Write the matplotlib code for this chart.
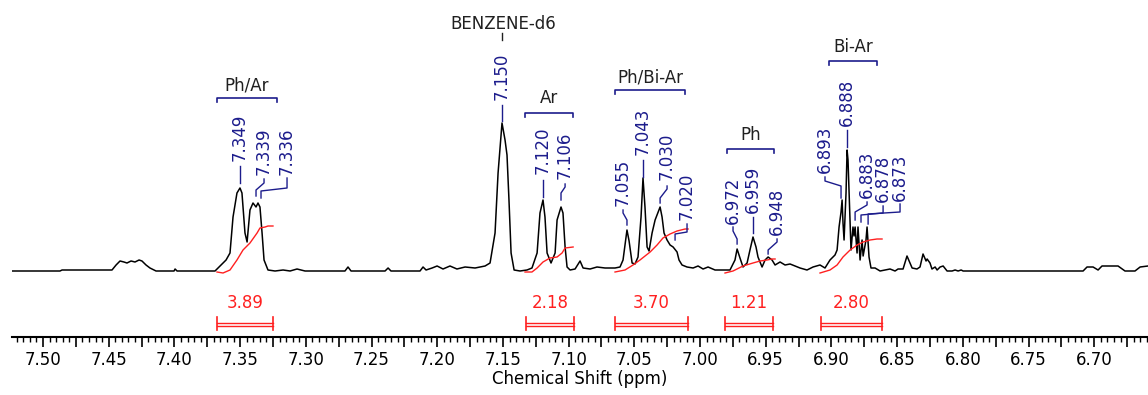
"""
1H NMR (C6D6) aromatic region 6.66 - 7.52 ppm with peak picks and integrals.
"""
import numpy as np
import matplotlib
matplotlib.use("Agg")
import matplotlib.pyplot as plt
from matplotlib.ticker import MultipleLocator, FuncFormatter

# ---------------------------------------------------------------------------
#  Data
# ---------------------------------------------------------------------------
ppm = [
    7.5236, 7.4871, 7.4855, 7.4779, 7.4566, 7.4475, 7.4444, 7.4414, 7.4384, 7.4361,
    7.4330, 7.4300, 7.4269, 7.4247, 7.4216, 7.4186, 7.4140, 7.4003, 7.3995, 7.3980,
    7.3767, 7.3691, 7.3653, 7.3607, 7.3577, 7.3554, 7.3524, 7.3501, 7.3486, 7.3463,
    7.3447, 7.3425, 7.3402, 7.3379, 7.3364, 7.3349, 7.3333, 7.3318, 7.3288, 7.3234,
    7.3173, 7.3120, 7.3067, 7.3006, 7.2702, 7.2679, 7.2656, 7.2397, 7.2374, 7.2352,
    7.2131, 7.2108, 7.2085, 7.2039, 7.2001, 7.1956, 7.1903, 7.1850, 7.1788, 7.1712,
    7.1636, 7.1598, 7.1560, 7.1537, 7.1507, 7.1484, 7.1469, 7.1454, 7.1438, 7.1415,
    7.1370, 7.1317, 7.1279, 7.1240, 7.1218, 7.1195, 7.1180, 7.1164, 7.1134, 7.1103,
    7.1088, 7.1058, 7.1043, 7.1027, 7.1012, 7.0989, 7.0951, 7.0913, 7.0890, 7.0837,
    7.0784, 7.0723, 7.0647, 7.0609, 7.0586, 7.0556, 7.0540, 7.0517, 7.0495, 7.0472,
    7.0449, 7.0434, 7.0419, 7.0403, 7.0388, 7.0365, 7.0342, 7.0304, 7.0289, 7.0274,
    7.0251, 7.0228, 7.0205, 7.0175, 7.0160, 7.0137, 7.0099, 7.0053, 7.0015, 6.9977,
    6.9939, 6.9886, 6.9833, 6.9772, 6.9734, 6.9718, 6.9696, 6.9673, 6.9642, 6.9620,
    6.9597, 6.9574, 6.9559, 6.9528, 6.9505, 6.9482, 6.9452, 6.9429, 6.9391, 6.9353,
    6.9315, 6.9277, 6.9239, 6.9186, 6.9140, 6.9087, 6.9049, 6.9011, 6.8973, 6.8957,
    6.8942, 6.8927, 6.8919, 6.8912, 6.8904, 6.8889, 6.8881, 6.8874, 6.8866, 6.8858,
    6.8851, 6.8836, 6.8828, 6.8820, 6.8805, 6.8798, 6.8782, 6.8767, 6.8759, 6.8737,
    6.8729, 6.8714, 6.8699, 6.8668, 6.8630, 6.8554, 6.8516, 6.8493, 6.8455, 6.8425,
    6.8409, 6.8386, 6.8349, 6.8326, 6.8303, 6.8280, 6.8272, 6.8250, 6.8235, 6.8211,
    6.8196, 6.8173, 6.8150, 6.8120, 6.8082, 6.8059, 6.8036, 6.8013, 6.7998, 6.7085,
    6.7055, 6.7009, 6.6971, 6.6941, 6.6819, 6.6766, 6.6690, 6.6651, 6.6591,
]
intensity = [
    0, 0, 1, 1, 1, 1, 6, 10, 9, 8,
    10, 9, 11, 10, 6, 3, 0, 0, 2, 0,
    0, 0, 5, 11, 18, 54, 78, 83, 78, 38,
    29, 61, 68, 64, 68, 64, 38, 11, 1, 0,
    1, 0, 2, 0, 0, 4, 0, 0, 3, 0,
    0, 4, 1, 3, 5, 2, 5, 2, 4, 3,
    5, 8, 38, 98, 148, 131, 116, 71, 18, 1,
    0, 1, 3, 18, 58, 71, 54, 18, 8, 18,
    51, 64, 58, 24, 4, 1, 2, 10, 3, 2,
    4, 3, 3, 4, 11, 41, 30, 8, 7, 14,
    54, 93, 64, 24, 20, 38, 51, 64, 54, 38,
    31, 26, 24, 19, 11, 6, 4, 3, 5, 2,
    4, 1, 1, 1, 11, 22, 13, 4, 8, 21,
    34, 24, 14, 4, 11, 14, 11, 6, 9, 6,
    7, 5, 3, 1, 4, 6, 3, 11, 16, 21,
    44, 59, 71, 48, 31, 78, 121, 111, 81, 48,
    21, 44, 35, 44, 18, 44, 11, 31, 15, 31,
    44, 14, 3, 3, 0, 2, 0, 2, 2, 15,
    10, 3, 2, 4, 17, 10, 12, 8, 2, 4,
    1, 4, 5, 0, 0, 1, 0, 1, 0, 0,
    4, 4, 1, 5, 5, 0, 0, 4, 5,
]

# integral traces (ppm, height)
int_phar_x = [7.3676, 7.3630, 7.3577, 7.3524, 7.3478, 7.3425, 7.3371, 7.3349, 7.3310, 7.3288, 7.3250]
int_phar_y = [-1, -2, 1, 11, 21, 28, 38, 43, 44, 45, 45]
int_ar_x = [7.1332, 7.1279, 7.1240, 7.1195, 7.1142, 7.1088, 7.1050, 7.1027, 7.0966]
int_ar_y = [-1, -1, 3, 9, 13, 14, 18, 23, 24]
int_phbiar_x = [7.0647, 7.0571, 7.0510, 7.0457, 7.0380, 7.0327, 7.0282, 7.0228, 7.0175, 7.0114, 7.0091]
int_phbiar_y = [-1, 1, 6, 11, 19, 26, 33, 37, 40, 42, 42]
int_ph_x = [6.9810, 6.9749, 6.9673, 6.9597, 6.9543, 6.9490, 6.9452, 6.9429]
int_ph_y = [-2, 0, 5, 8, 10, 11, 12, 12]
int_biar_x = [6.9087, 6.9011, 6.8957, 6.8912, 6.8858, 6.8805, 6.8759, 6.8706, 6.8653, 6.8615]
int_biar_y = [-2, 1, 6, 14, 21, 26, 29, 31, 32, 32]

# integral regions and values
int_from = [7.3676, 7.1324, 7.0647, 6.9810, 6.9080]
int_to = [7.3250, 7.0959, 7.0091, 6.9444, 6.8615]
int_values = ["3.89", "2.18", "3.70", "1.21", "2.80"]

# multiplet groups
group_names = ["Ph/Ar", "Ar", "Ph/Bi-Ar", "Ph", "Bi-Ar"]
group_from = [7.3676, 7.1332, 7.0647, 6.9794, 6.9018]
group_to = [7.3219, 7.0966, 7.0114, 6.9437, 6.8653]

# peak picks: label text, peak position
peak_labels = ["7.349", "7.339", "7.336", "7.150", "7.120", "7.106", "7.055", "7.043",
               "7.030", "7.020", "6.972", "6.959", "6.948", "6.893", "6.888", "6.883",
               "6.878", "6.873"]
peak_pos = [7.3501, 7.3379, 7.3341, 7.1507, 7.1195, 7.1058, 7.0556, 7.0434,
            7.0304, 7.0190, 6.9718, 6.9597, 6.9482, 6.8927, 6.8881, 6.8820,
            6.8775, 6.8721]

# ---------------------------------------------------------------------------
#  Layout of annotations (label x, label centre y, leader y1, y2, y3, y4)
# ---------------------------------------------------------------------------
lab_x = [7.3501, 7.3318, 7.3143, 7.1507, 7.1195, 7.1027, 7.0586, 7.0434,
         7.0251, 7.0099, 6.9749, 6.9597, 6.9414, 6.9049, 6.8881, 6.8729,
         6.8607, 6.8478]
lab_y = [134, 120, 120, 195, 121, 116, 89, 140, 115, 75, 71, 82, 60, 122, 169, 97, 93, 94]
lead_y = [(105, 97, 96, 88), (92, 88, 81, 75), (93, 83, 80, 73), (166, 158, 158, 150),
          (91, 83, 82, 74), (87, 84, 78, 71), (61, 58, 51, 46), (111, 103, 102, 94),
          (85, 82, 73, 68), (47, 39, 37, 31), (44, 40, 32, 27), (54, 46, 45, 38),
          (32, 29, 21, 17), (94, 90, 85, 73), (141, 133, 132, 124), (69, 66, 59, 51),
          (65, 58, 56, 49), (67, 59, 57, 47)]
group_bar_y = [173, 158, 181, 122, 210]
group_txt_y = [186, 173, 194, 136, 224]

BLUE = "#1c1c8c"
RED = "#ff2020"

# ---------------------------------------------------------------------------
#  Plot
# ---------------------------------------------------------------------------
fig = plt.figure(figsize=(11.48, 3.95), dpi=100)
ax = fig.add_axes([12/1148, 58/395, 1136/1148, 337/395])

ax.plot(ppm, intensity, color="black", lw=1.1)

for xs, ys in [(int_phar_x, int_phar_y), (int_ar_x, int_ar_y), (int_phbiar_x, int_phbiar_y),
               (int_ph_x, int_ph_y), (int_biar_x, int_biar_y)]:
    ax.plot(xs, ys, color=RED, lw=1.0)

# integral brackets
for a, b, v in zip(int_from, int_to, int_values):
    ax.plot([a, b], [-52, -52], color=RED, lw=1.0)
    ax.plot([a, b], [-55, -55], color=RED, lw=1.0)
    ax.plot([a, a], [-46, -59], color=RED, lw=1.2)
    ax.plot([b, b], [-46, -59], color=RED, lw=1.2)
    ax.text((a + b) / 2, -32, v, color=RED, fontsize=12, ha="center", va="center")

# group brackets
for name, a, b, yb, yt in zip(group_names, group_from, group_to, group_bar_y, group_txt_y):
    ax.plot([a, a, b, b], [yb - 4, yb, yb, yb - 4], color=BLUE, lw=1.2)
    ax.text((a + b) / 2, yt, name, color="#202020", fontsize=12, ha="center", va="center")

# peak picks
for txt, xp, xl, yl, ly in zip(peak_labels, peak_pos, lab_x, lab_y, lead_y):
    ax.text(xl, yl, txt, color=BLUE, fontsize=12, rotation=90, ha="center", va="center")
    ax.plot([xl, xl, xp, xp], list(ly), color=BLUE, lw=1.0)

# solvent label
ax.text(7.1499, 247, "BENZENE-d6", color="#202020", fontsize=12, ha="center", va="center")
ax.plot([7.1507, 7.1507], [238, 231], color="#202020", lw=1.0)

ax.set_xlim(7.5236, 6.6591)
ax.set_ylim(-66, 271)
for s in ["top", "left", "right"]:
    ax.spines[s].set_visible(False)
ax.spines["bottom"].set_linewidth(1.5)
ax.set_yticks([])
ax.xaxis.set_major_locator(MultipleLocator(0.025))
ax.xaxis.set_minor_locator(MultipleLocator(0.005))
ax.xaxis.set_major_formatter(FuncFormatter(
    lambda v, p: f"{v:.2f}" if round(v * 1000) % 50 == 0 else ""))
ax.tick_params(axis="x", which="major", length=7, width=1.2, labelsize=12, pad=3)
ax.tick_params(axis="x", which="minor", length=3.5, width=1.0)
ax.set_xlabel("Chemical Shift (ppm)", fontsize=12, labelpad=1)

fig.savefig("out.png", dpi=100)
